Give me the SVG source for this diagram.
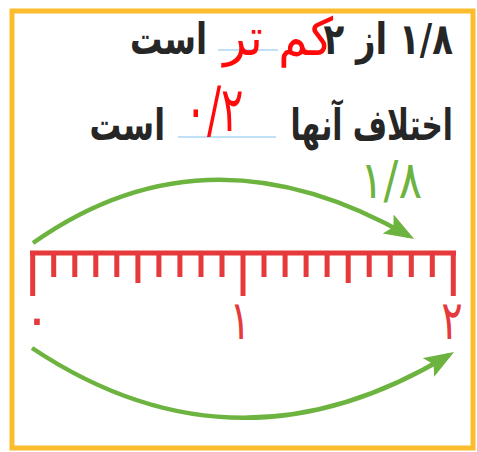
<svg xmlns="http://www.w3.org/2000/svg" width="477" height="452" viewBox="0 0 477 452">
<style>
.blk{font-family:"DejaVu Sans",sans-serif;font-weight:bold;fill:#262626;font-size:34px}
.red{font-family:"DejaVu Sans",sans-serif;fill:#ff0a0a;font-size:40px}
.grn{font-family:"DejaVu Sans",sans-serif;fill:#6db33f;font-size:40px}
.rl{font-family:"DejaVu Sans",sans-serif;fill:#e5393b;font-size:40px}
.tick{stroke:#e5393b;stroke-width:5}
.arc{fill:none;stroke:#6db33f;stroke-width:4.5}
.ul{stroke:#bfe0f5;stroke-width:2}
</style>
<defs>
<marker id="ah" markerUnits="userSpaceOnUse" markerWidth="32" markerHeight="24" refX="24" refY="11" orient="auto">
<path d="M0,0 L30,11 L0,22 L6,11 z" fill="#6db33f"/>
</marker>
</defs>
<rect x="12" y="11" width="461" height="437" fill="#fff" stroke="#fbbd2e" stroke-width="5"/>
<g id="line1">
<line class="ul" x1="218" y1="50" x2="278" y2="50"/>
<text class="blk" transform="translate(453 54) scale(1 1.27)" text-anchor="start" direction="rtl">۱/۸ از ۲</text>
<text class="red" transform="translate(333 55) scale(1.2 1.3)" text-anchor="start" direction="rtl">کم تر</text>
<text class="blk" transform="translate(207 54) scale(0.95 1.27)" text-anchor="start" direction="rtl">است</text>
</g>
<g id="line2">
<line class="ul" x1="178" y1="137" x2="276" y2="137"/>
<text class="blk" transform="translate(453 140) scale(0.87 1.27)" text-anchor="start" direction="rtl">اختلاف آنها</text>
<text class="red" transform="translate(214 131) scale(1.05 1.55)" text-anchor="middle">۰/۲</text>
<text class="blk" transform="translate(165 140) scale(0.93 1.27)" text-anchor="start" direction="rtl">است</text>
</g>
<g id="label-top">
<text class="grn" transform="translate(391 198) scale(1.1 1.3)" text-anchor="middle">۱/۸</text>
</g>
<g id="ruler">
<line class="tick" x1="30" y1="253" x2="456" y2="253" stroke-width="5.5"/>
<path class="tick" fill="none" d="M32.7,253V296 M53.7,253V277 M74.8,253V277 M95.8,253V277 M116.8,253V277 M137.9,253V283 M158.9,253V277 M179.9,253V277 M201,253V277 M222,253V277 M243,253V296 M264,253V277 M285.1,253V277 M306.1,253V277 M327.1,253V277 M348.2,253V283 M369.2,253V277 M390.2,253V277 M411.3,253V277 M432.3,253V277 M453.3,253V296"/>
<text class="rl" transform="translate(37 336) scale(1.3 1.3)" text-anchor="middle">۰</text>
<text class="rl" transform="translate(240 339) scale(1 1.35)" text-anchor="middle">۱</text>
<text class="rl" transform="translate(452 339) scale(1 1.35)" text-anchor="middle">۲</text>
</g>
<g id="connectors">
<path class="arc" d="M33,243 Q207,120 409,236" marker-end="url(#ah)"/>
<path class="arc" d="M32,348 Q236,484 449,355" marker-end="url(#ah)"/>
</g>
</svg>
